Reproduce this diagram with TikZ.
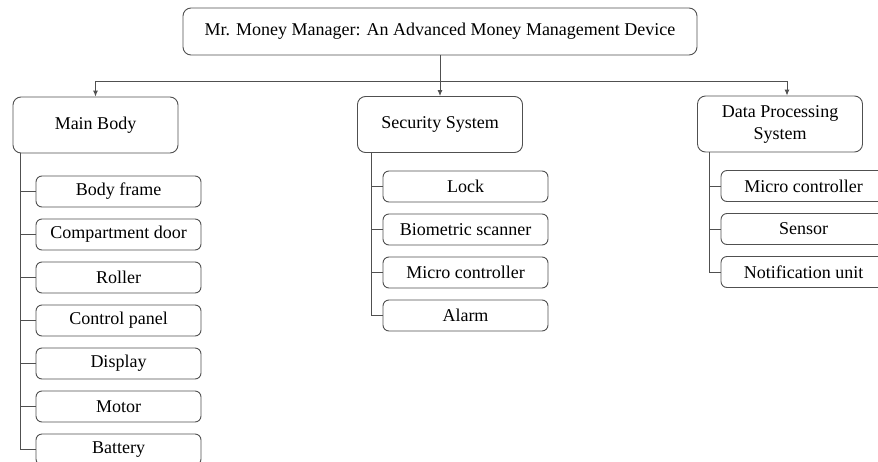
\documentclass[tikz,border=0pt]{standalone}
\usepackage{fontspec}
\setmainfont{Liberation Serif}
\usetikzlibrary{arrows.meta}
\definecolor{linegray}{HTML}{505050}
\begin{document}
\begin{tikzpicture}[x=1pt,y=-1pt,
  box/.style={draw=linegray, line width=0.9pt, align=center, inner sep=0pt,
    font=\fontsize{18}{22}\selectfont, text=black},
  head/.style={box, rounded corners=8pt, minimum width=165pt, minimum height=56pt},
  item/.style={box, rounded corners=6pt, minimum width=165pt, minimum height=31pt},
  link/.style={draw=linegray, line width=0.9pt},
  arr/.style={link, -{Latex[length=6pt,width=5pt]}}]
\useasboundingbox (0,0) rectangle (878,461);
\clip (0,0) rectangle (878,461);

% root
\node[box, rounded corners=8pt, minimum width=514pt, minimum height=47pt] (top) at (440,31.5)
  {Mr. Money Manager: An Advanced Money Management Device};

% main branches
\node[head] (mb)  at (95.5,125) {Main Body};
\node[head] (sec) at (440,124.5) {Security System};
\node[head] (dps) at (780,124) {Data Processing\\System};

% main body parts
\foreach \t [count=\i from 0] in {Body frame, Compartment door, Roller, Control panel, Display, Motor, Battery}
  \node[item] (m\i) at (118.5,191.5+43*\i) {\t};

% security parts
\foreach \t [count=\i from 0] in {Lock, Biometric scanner, Micro controller, Alarm}
  \node[item] (s\i) at (465.5,186.5+43*\i) {\t};

% data processing parts
\foreach \t [count=\i from 0] in {Micro controller, Sensor, Notification unit}
  \node[item] (d\i) at (803.5,186+43*\i) {\t};

% root to branches
\coordinate (hub) at (top.south |- 0,81);
\draw[arr] (top.south) -- (sec.north);
\draw[arr] (hub) -| (mb.north);
\draw[arr] (hub) -| ([xshift=7pt]dps.north);

% trunks and ticks
\coordinate (mt) at ([xshift=8pt]mb.south west);
\draw[link] (mt) |- (m6.west);
\foreach \i in {0,...,5} \draw[link] (mt |- m\i.west) -- (m\i.west);

\coordinate (st) at ([xshift=14pt]sec.south west);
\draw[link] (st) |- (s3.west);
\foreach \i in {0,...,2} \draw[link] (st |- s\i.west) -- (s\i.west);

\coordinate (dt) at ([xshift=12pt]dps.south west);
\draw[link] (dt) |- (d2.west);
\foreach \i in {0,1} \draw[link] (dt |- d\i.west) -- (d\i.west);
\end{tikzpicture}
\end{document}
